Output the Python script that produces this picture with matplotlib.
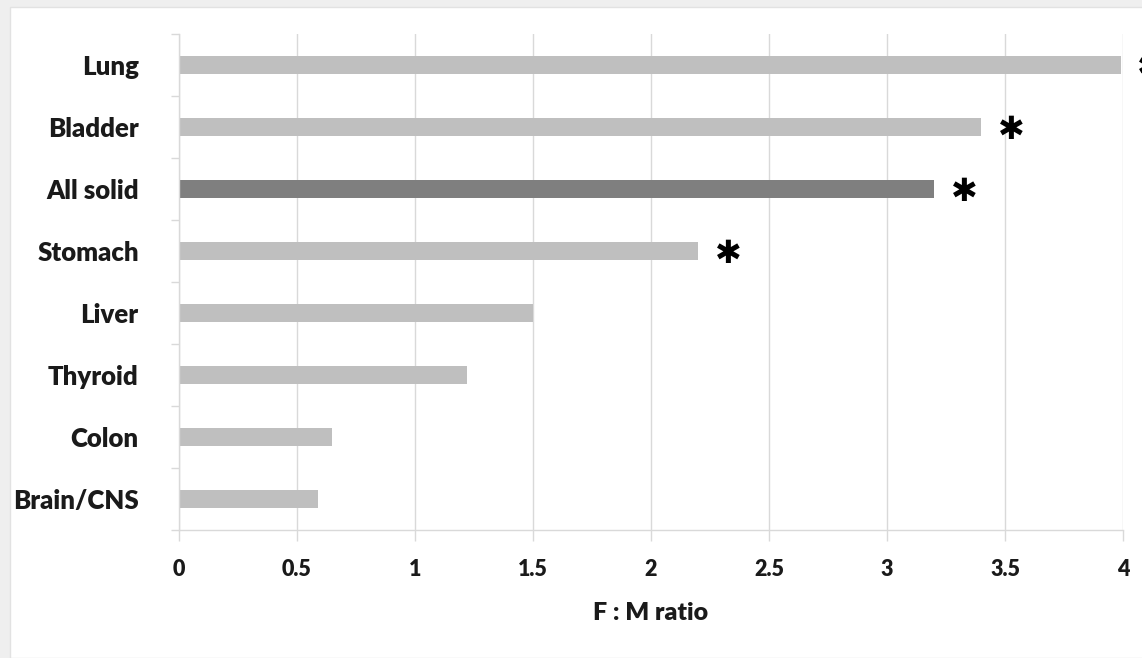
import numpy as np
import matplotlib.pyplot as plt
from matplotlib.patches import Rectangle

# F:M ratio by cancer site (top to bottom)
sites = ['Lung', 'Bladder', 'All solid', 'Stomach', 'Liver', 'Thyroid', 'Colon', 'Brain/CNS']
ratios = [3.99, 3.40, 3.20, 2.20, 1.50, 1.22, 0.65, 0.59]
significant = [True, True, True, True, False, False, False, False]
highlight = 'All solid'
xticks = [0, 0.5, 1, 1.5, 2, 2.5, 3, 3.5, 4]
xtick_labels = ['0', '0.5', '1', '1.5', '2', '2.5', '3', '3.5', '4']

LIGHT = '#bfbfbf'
DARK = '#7f7f7f'
GRID = '#d9d9d9'
INK = '#1a1a1a'

plt.rcParams['font.family'] = ['Lato', 'DejaVu Sans']

fig = plt.figure(figsize=(11.42, 6.58), dpi=100, facecolor='#efefef')
fig.add_artist(Rectangle((10 / 1142, 0), 1, 651 / 658, transform=fig.transFigure,
                         facecolor='white', edgecolor='#e2e2e2', lw=1, zorder=0))

ax = fig.add_axes([179 / 1142, 128 / 658, 944 / 1142, 496 / 658])
ax.set_facecolor('none')

y = np.arange(len(sites))[::-1]
colors = [DARK if s == highlight else LIGHT for s in sites]
ax.barh(y, ratios, height=0.3, color=colors, zorder=2)

# significance stars
for yi, r, sig in zip(y, ratios, significant):
    if sig:
        ax.text(r + 0.07, yi - 0.05, '\u2731', fontsize=23, family='DejaVu Sans',
                color='black', ha='left', va='center', zorder=3, clip_on=False)

ax.set_xlim(0, 4)
ax.set_ylim(-0.5, len(sites) - 0.5)
ax.set_xticks(xticks)
ax.set_xticklabels(xtick_labels, fontsize=15.5, fontweight='heavy', color=INK)
ax.set_yticks(y)
ax.set_yticklabels(sites, fontsize=18.5, fontweight='heavy', color=INK)
ax.set_yticks(np.arange(-0.5, len(sites), 1), minor=True)

ax.tick_params(axis='y', which='major', length=0, pad=29)
ax.tick_params(axis='y', which='minor', length=6, color=GRID, width=1)
ax.tick_params(axis='x', which='major', length=8, color=GRID, width=1, pad=13)

ax.grid(axis='x', color=GRID, lw=1, zorder=0)
for side in ['top', 'right']:
    ax.spines[side].set_visible(False)
for side in ['left', 'bottom']:
    ax.spines[side].set_color(GRID)
    ax.spines[side].set_linewidth(1)

ax.set_xlabel('F : M ratio', fontsize=18, fontweight='heavy', color=INK, labelpad=16)

fig.savefig('out.png', dpi=100, facecolor=fig.get_facecolor())
